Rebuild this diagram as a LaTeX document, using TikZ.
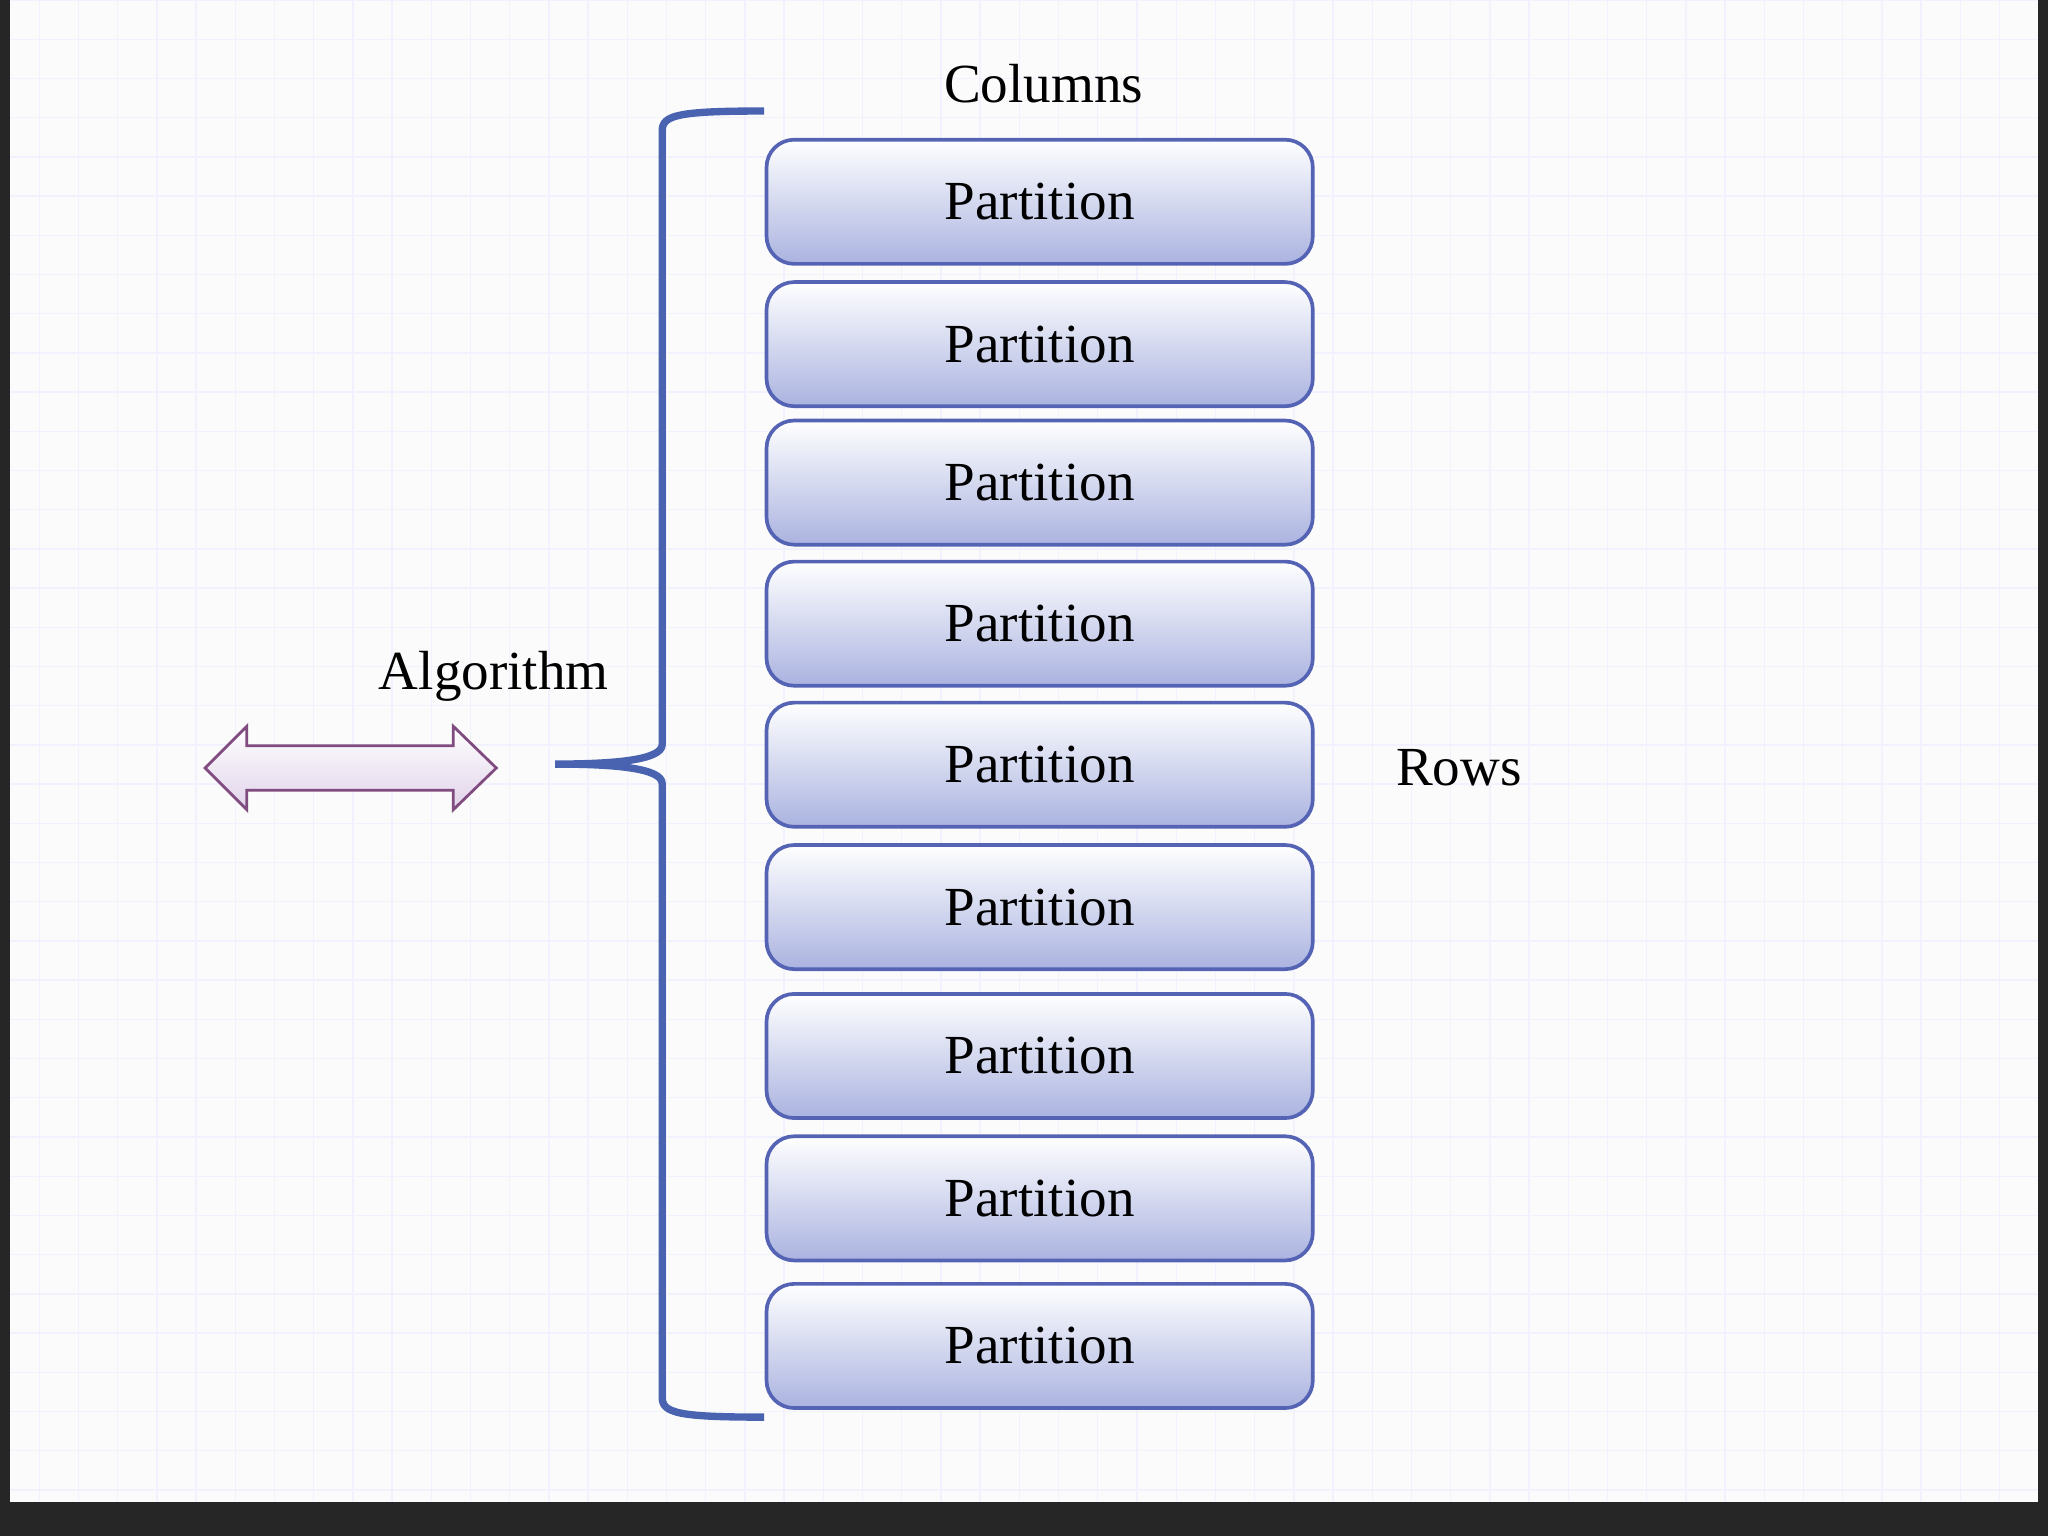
\documentclass[tikz,border=0pt]{standalone}
\usepackage{fontspec}
\setmainfont{Liberation Serif}
\definecolor{edge}{HTML}{5563B5}
\definecolor{lav}{HTML}{AAB3E0}
\definecolor{brace}{HTML}{4A63B0}
\tikzset{
  part/.style={draw=edge, line width=0.8pt, rounded corners=6pt, top color=white, bottom color=lav,
    minimum width=4.18cm, minimum height=0.95cm, font=\fontsize{12}{14}\selectfont},
  lbl/.style={font=\fontsize{12}{14}\selectfont}
}
\begin{document}
\begin{tikzpicture}[x=0.01cm,y=-0.01cm]
\useasboundingbox (0,0) rectangle (1568,1176);
\fill[black!85] (0,0) rectangle (1568,1176);
\fill[white!97!gray] (8,0) rectangle (1560,1150);
\draw[blue!5, line width=0.3pt] (8,0) grid[step=0.3cm] (1560,1150);
\foreach \t [count=\i] in {107,216,322,430,538,647,761,870,983}
  \node[part] (p\i) at (796,\t+47.5) {Partition};
\node[lbl] (col) at (799,64) {Columns};
\node[lbl] (alg) at (378,518) {Algorithm};
\node[lbl] (rows) at (1117,588) {Rows};
\draw[brace, line width=1.6pt] (585,85) .. controls (520,85) and (507,88) .. (507,100) -- (507,570)
  .. controls (507,582) and (470,585) .. (425,585)
  .. controls (470,585) and (507,588) .. (507,600) -- (507,1070)
  .. controls (507,1082) and (520,1085) .. (585,1085);
\draw[draw=gray!60!violet, line width=0.6pt, top color=white, bottom color=lav!60!violet!30]
  (157,588) -- (189,556) -- (189,571) -- (347,571) -- (347,556) -- (380,588)
  -- (347,620) -- (347,605) -- (189,605) -- (189,620) -- cycle;
\end{tikzpicture}
\end{document}
